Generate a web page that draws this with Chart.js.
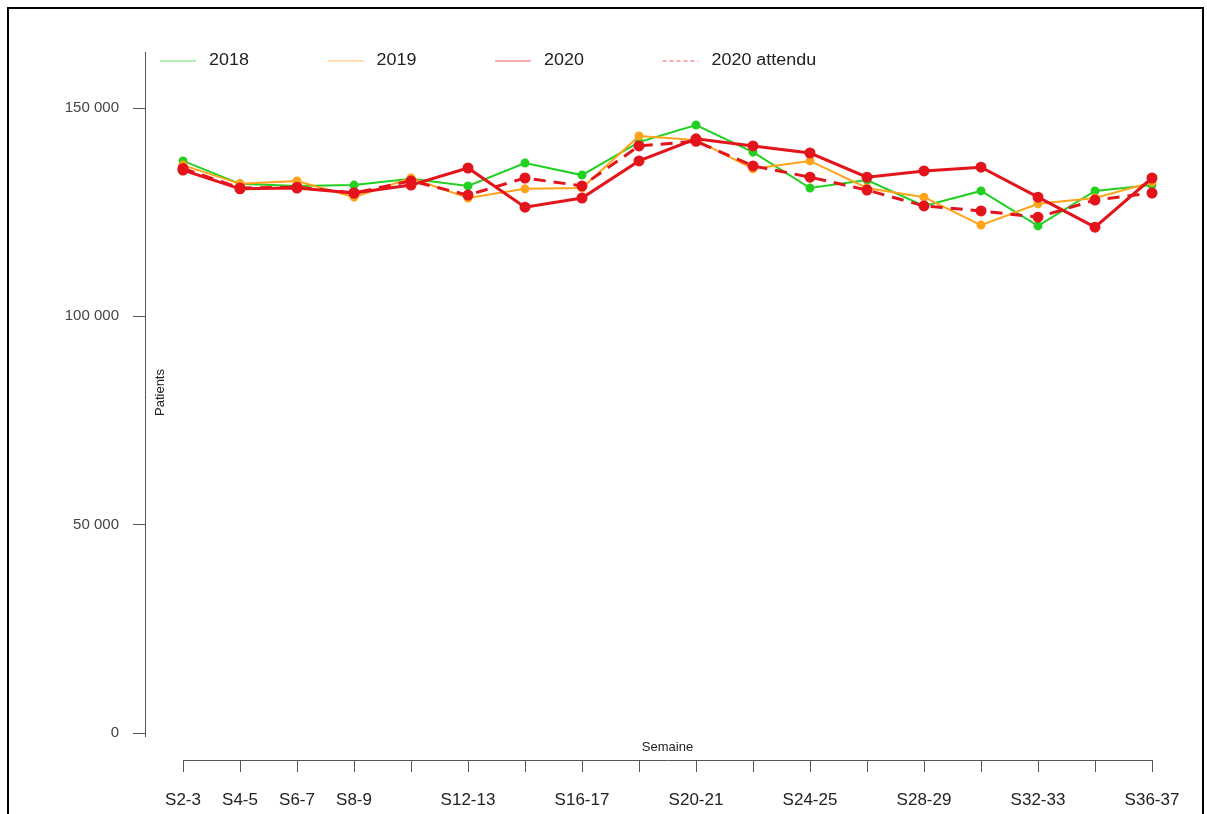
<!DOCTYPE html>
<html>
<head>
<meta charset="utf-8">
<script src="https://cdn.jsdelivr.net/npm/chart.js@4/dist/chart.umd.min.js"></script>
<style>
  html, body { margin: 0; padding: 0; background: #fff; }
  #wrap { width: 1207px; height: 814px; position: relative; }
</style>
</head>
<body>
<div id="wrap"><canvas id="chart" width="1207" height="814"></canvas></div>
<script>
const weeks = ['S2-3', 'S4-5', 'S6-7', 'S8-9', 'S10-11', 'S12-13', 'S14-15', 'S16-17', 'S18-19',
    'S20-21', 'S22-23', 'S24-25', 'S26-27', 'S28-29', 'S30-31', 'S32-33', 'S34-35', 'S36-37'];
const shownLabels = ['S2-3', 'S4-5', 'S6-7', 'S8-9', 'S12-13', 'S16-17', 'S20-21', 'S24-25', 'S28-29', 'S32-33', 'S36-37'];
const yTicks = [0, 50000, 100000, 150000];

const patients2018 = [137300, 131800, 131300, 131500, 133000, 131300, 136800, 133900, 141800,
    145900, 139400, 130800, 132700, 126500, 130100, 121700, 130100, 131500];
const patients2019 = [136300, 131800, 132500, 128600, 133200, 128400, 130600, 130800, 143300,
    142300, 135400, 137300, 130800, 128600, 121900, 127000, 128400, 132200];
const patients2020 = [135100, 130600, 130800, 129600, 131500, 135600, 126200, 128400, 137300,
    142600, 140900, 139200, 133400, 134900, 135800, 128600, 121400, 133200];
const attendu2020 = [135500, 130800, 131000, 129600, 132500, 129100, 133200, 131300, 140900,
    142000, 136100, 133400, 130300, 126500, 125300, 123800, 127900, 129600];

const FONT = "'Liberation Sans', Arial, sans-serif";
const AXIS = '#555';

function fmt(v) {
    return String(v).replace(/\B(?=(\d{3})+(?!\d))/g, ' ');
}

function toPoints(arr) {
    return arr.map((v, i) => ({ x: i, y: v }));
}

// R style decorations: frame, axis lines, axis titles, legend
const decor = {
    id: 'decor',
    beforeDraw(chart) {
        const c = chart.ctx;
        c.save();
        c.fillStyle = '#fff';
        c.fillRect(0, 0, chart.width, chart.height);
        c.strokeStyle = '#000';
        c.lineWidth = 2;
        c.strokeRect(8, 8, 1195, 900);
        c.restore();
    },
    afterDraw(chart) {
        const c = chart.ctx;
        const xs = chart.scales.x, ys = chart.scales.y;
        const area = chart.chartArea;
        c.save();
        c.strokeStyle = AXIS;
        c.lineWidth = 1;
        // y axis line
        c.beginPath();
        c.moveTo(area.left + 0.5, area.top);
        c.lineTo(area.left + 0.5, ys.getPixelForValue(0) + 4);
        c.stroke();
        // x axis line
        const x0 = xs.getPixelForValue(0), x1 = xs.getPixelForValue(weeks.length - 1);
        c.beginPath();
        c.moveTo(x0, area.bottom + 0.5);
        c.lineTo(x1, area.bottom + 0.5);
        c.stroke();
        // titles
        c.fillStyle = '#222';
        c.font = '13px ' + FONT;
        c.textAlign = 'center';
        c.textBaseline = 'middle';
        c.fillText('Semaine', (x0 + x1) / 2, area.bottom - 13);
        c.translate(area.left + 15, (area.top + ys.getPixelForValue(0)) / 2);
        c.rotate(-Math.PI / 2);
        c.fillText('Patients', 0, 0);
        c.restore();

        // legend
        c.save();
        c.font = '16px ' + FONT;
        c.textBaseline = 'middle';
        c.textAlign = 'left';
        const ly = 61;
        chart.data.datasets.forEach((ds, i) => {
            const lx = 160 + i * 167.5;
            c.globalAlpha = 0.35;
            c.strokeStyle = ds.borderColor;
            c.lineWidth = 2;
            c.setLineDash(ds.borderDash ? [4, 3] : []);
            c.beginPath();
            c.moveTo(lx, ly);
            c.lineTo(lx + 36, ly);
            c.stroke();
            c.globalAlpha = 1;
            c.setLineDash([]);
            c.fillStyle = '#222';
            c.save();
            c.translate(lx + 49, ly);
            c.scale(1.12, 1);
            c.fillText(ds.label, 0, 0);
            c.restore();
        });
        c.restore();
    }
};

const ctx = document.getElementById('chart').getContext('2d');
const chart = new Chart(ctx, {
    type: 'line',
    data: {
        datasets: [
            {
                label: '2018',
                data: toPoints(patients2018),
                borderColor: '#22d022',
                backgroundColor: '#22d022',
                borderWidth: 2,
                pointRadius: 3.5,
                order: 4
            },
            {
                label: '2019',
                data: toPoints(patients2019),
                borderColor: '#ffa31a',
                backgroundColor: '#ffa31a',
                borderWidth: 2,
                pointRadius: 3.5,
                order: 3
            },
            {
                label: '2020',
                data: toPoints(patients2020),
                borderColor: '#e3141b',
                backgroundColor: '#e3141b',
                borderWidth: 3,
                pointRadius: 4,
                order: 1
            },
            {
                label: '2020 attendu',
                data: toPoints(attendu2020),
                borderColor: '#e3141b',
                backgroundColor: '#e3141b',
                borderWidth: 3,
                borderDash: [12, 8],
                pointRadius: 4,
                order: 2
            }
        ]
    },
    options: {
        responsive: false,
        animation: false,
        devicePixelRatio: 1,
        layout: { padding: { left: 0, top: 52, right: 37, bottom: 0 } },
        plugins: {
            legend: { display: false },
            tooltip: { enabled: false }
        },
        elements: {
            line: { tension: 0 },
            point: { borderWidth: 0, hoverRadius: 4 }
        },
        scales: {
            x: {
                type: 'linear',
                min: -38 / 57,
                max: 17 + 18 / 57,
                afterBuildTicks(s) { s.ticks = weeks.map((w, i) => ({ value: i })); },
                afterFit(s) { s.height = 54; },
                border: { display: false },
                grid: { drawOnChartArea: false, drawTicks: true, tickLength: 12, color: AXIS },
                ticks: {
                    autoSkip: false,
                    maxRotation: 0,
                    padding: 18,
                    color: '#222',
                    font: { family: FONT, size: 17 },
                    callback: (v) => shownLabels.includes(weeks[v]) ? weeks[v] : ''
                }
            },
            y: {
                min: -6480,
                max: 163440,
                afterBuildTicks(s) { s.ticks = yTicks.map(v => ({ value: v })); },
                afterFit(s) { s.width = 145; },
                border: { display: false },
                grid: { drawOnChartArea: false, drawTicks: true, tickLength: 12, color: AXIS },
                ticks: {
                    padding: 14,
                    color: '#444',
                    font: { family: FONT, size: 15 },
                    callback: (v) => fmt(v)
                }
            }
        }
    },
    plugins: [decor]
});
</script>
</body>
</html>
